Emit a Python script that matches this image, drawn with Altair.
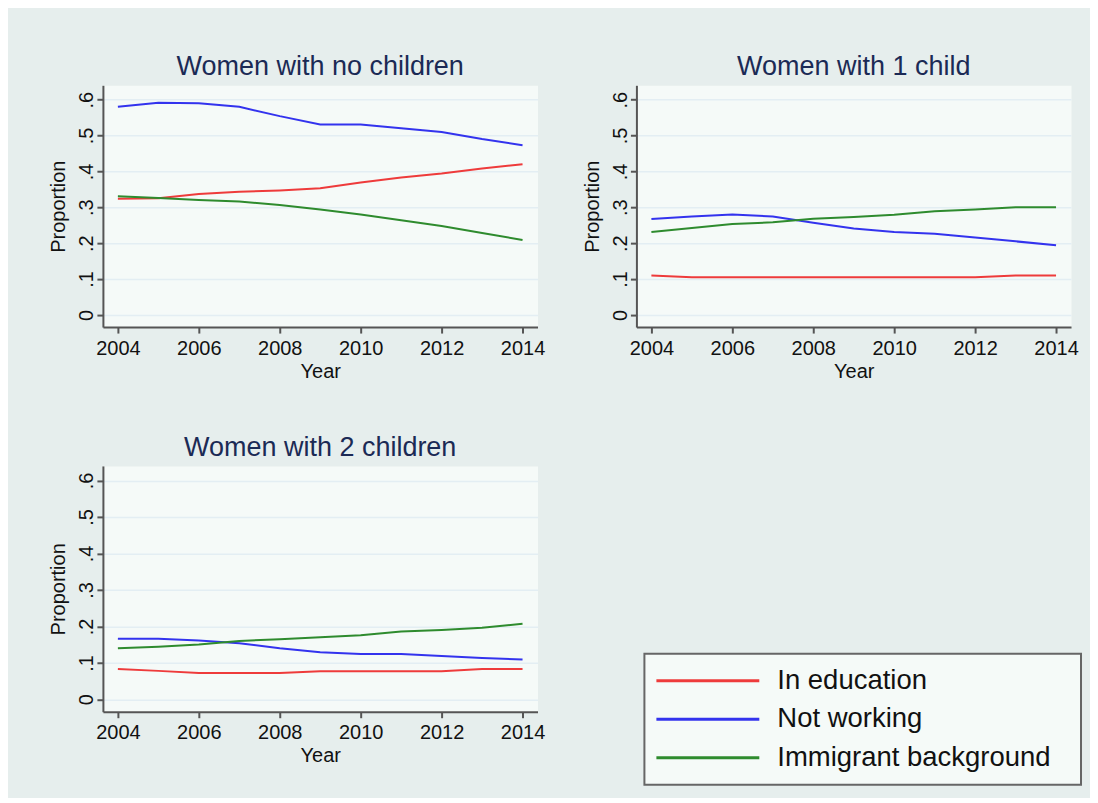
import altair as alt
import pandas as pd

years = list(range(2004, 2015))
series_names = ["In education", "Not working", "Immigrant background"]
series_colors = ["#ee3b3b", "#3333ee", "#2e8b2e"]
panel_titles = ["Women with no children", "Women with 1 child", "Women with 2 children"]

no_children_educ = [0.324, 0.325, 0.337, 0.343, 0.347, 0.353, 0.369, 0.383, 0.394, 0.408, 0.420]
no_children_notwork = [0.580, 0.591, 0.590, 0.580, 0.554, 0.531, 0.531, 0.520, 0.510, 0.490, 0.473]
no_children_immig = [0.331, 0.326, 0.320, 0.316, 0.306, 0.294, 0.280, 0.264, 0.248, 0.228, 0.209]

one_child_educ = [0.110, 0.105, 0.105, 0.105, 0.105, 0.105, 0.105, 0.105, 0.105, 0.110, 0.110]
one_child_notwork = [0.267, 0.274, 0.280, 0.274, 0.257, 0.241, 0.231, 0.226, 0.216, 0.205, 0.194]
one_child_immig = [0.231, 0.242, 0.253, 0.258, 0.268, 0.273, 0.279, 0.289, 0.294, 0.300, 0.300]

two_children_educ = [0.083, 0.078, 0.072, 0.072, 0.072, 0.077, 0.077, 0.077, 0.077, 0.083, 0.083]
two_children_notwork = [0.166, 0.166, 0.161, 0.154, 0.140, 0.129, 0.124, 0.124, 0.119, 0.113, 0.109]
two_children_immig = [0.140, 0.144, 0.150, 0.160, 0.165, 0.170, 0.176, 0.186, 0.190, 0.196, 0.207]

x_ticks = [2004, 2006, 2008, 2010, 2012, 2014]
y_ticks = [0, 0.1, 0.2, 0.3, 0.4, 0.5, 0.6]

FONT = "Liberation Sans"
BG = "#e6eeed"
PLOT_BG = "#f5faf8"
AXIS_COL = "#555555"


def long_df(educ, notwork, immig):
    rows = []
    for name, vals in zip(series_names, [educ, notwork, immig]):
        for y, v in zip(years, vals):
            rows.append({"Year": y, "value": v, "series": name})
    return pd.DataFrame(rows)


color_scale = alt.Scale(domain=series_names, range=series_colors)


def panel(df, title, width, height):
    return (
        alt.Chart(df)
        .mark_line(strokeWidth=2)
        .encode(
            x=alt.X(
                "Year:Q",
                scale=alt.Scale(domain=[2003.63, 2014.37], nice=False, zero=False),
                axis=alt.Axis(
                    values=x_ticks, format="d", title="Year", grid=False,
                    labelFontSize=20, titleFontSize=20, titleFontWeight="normal",
                    labelFont=FONT, titleFont=FONT, labelColor="#111", titleColor="#111",
                    tickSize=6, tickWidth=2, tickColor=AXIS_COL,
                    domainColor=AXIS_COL, domainWidth=2, labelPadding=5, titlePadding=3,
                    labelFlush=False,
                ),
            ),
            y=alt.Y(
                "value:Q",
                scale=alt.Scale(domain=[-0.034, 0.64], nice=False, zero=False),
                axis=alt.Axis(
                    values=y_ticks, title="Proportion",
                    labelExpr="datum.value == 0 ? '0' : replace(format(datum.value, '.1f'), '0.', '.')",
                    labelAngle=270, labelAlign="center", labelBaseline="bottom",
                    labelFontSize=20, titleFontSize=20, titleFontWeight="normal",
                    labelFont=FONT, titleFont=FONT, labelColor="#111", titleColor="#111",
                    tickSize=6, tickWidth=2, tickColor=AXIS_COL,
                    domainColor=AXIS_COL, domainWidth=2, labelPadding=0, titlePadding=8,
                    grid=True, gridColor="#e3eef3", gridWidth=1.5, labelFlush=False,
                ),
            ),
            color=alt.Color("series:N", scale=color_scale, legend=None),
            detail="series:N",
        )
        .properties(
            width=width, height=height,
            title=alt.TitleParams(
                title, fontSize=27, font=FONT, fontWeight="normal",
                color="#1b2a55", anchor="middle", offset=4,
            ),
            view=alt.ViewBackground(fill=PLOT_BG, stroke="transparent"),
        )
    )


p1 = panel(long_df(no_children_educ, no_children_notwork, no_children_immig), panel_titles[0], 435, 242)
p2 = panel(long_df(one_child_educ, one_child_notwork, one_child_immig), panel_titles[1], 435, 242)
p3 = panel(long_df(two_children_educ, two_children_notwork, two_children_immig), panel_titles[2], 435, 246)

leg_df = pd.DataFrame({"series": series_names})
leg_y = alt.Y(
    "series:N", sort=series_names,
    scale=alt.Scale(paddingInner=0, paddingOuter=0.2), axis=None,
)
leg_rules = alt.Chart(leg_df).mark_rule(strokeWidth=3).encode(
    y=leg_y, x=alt.value(12), x2=alt.value(115),
    color=alt.Color("series:N", scale=color_scale, legend=None),
)
leg_text = alt.Chart(leg_df).mark_text(
    align="left", baseline="middle", fontSize=27.5, font=FONT, color="#111"
).encode(y=leg_y, x=alt.value(133), text="series:N")
legend_panel = alt.layer(leg_rules, leg_text).properties(
    width=437, height=131,
    view=alt.ViewBackground(fill=PLOT_BG, stroke="#666666", strokeWidth=2),
)

spacer = alt.Chart(leg_df).mark_point(opacity=0).encode(
    x=alt.value(0), y=alt.value(0)
).properties(width=437, height=186, view=alt.ViewBackground(fill="transparent", stroke="transparent"))

right_bottom = alt.vconcat(spacer, legend_panel, spacing=0)
row1 = alt.hconcat(p1, p2, spacing=36)
row2 = alt.hconcat(p3, right_bottom, spacing=95)

chart = alt.vconcat(row1, row2, spacing=51).properties(
    background=BG,
    padding={"left": 40, "top": 44, "right": 8, "bottom": 12},
)

chart.save("out.html", embed_options={"renderer": "svg", "actions": False})
